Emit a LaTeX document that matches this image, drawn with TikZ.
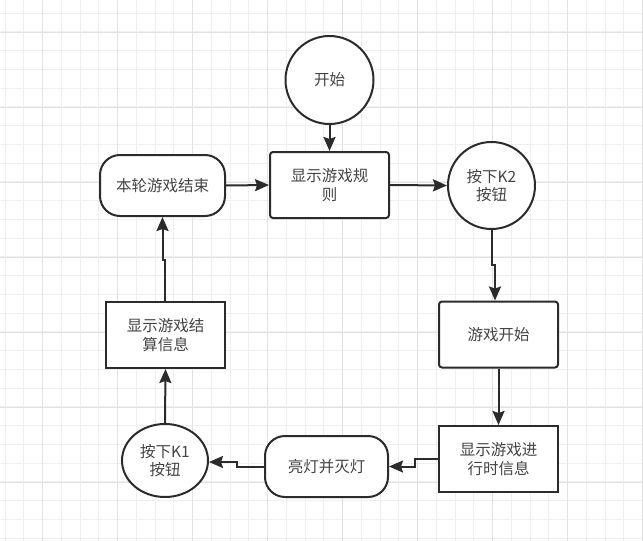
\documentclass[tikz,border=0pt]{standalone}
\usepackage{fontspec}
\setmainfont{Noto Sans CJK SC}
\usetikzlibrary{arrows.meta,shapes.geometric}
\definecolor{minorgrid}{HTML}{EFEFEF}
\definecolor{majorgrid}{HTML}{E2E2E2}
\definecolor{ink}{HTML}{2B2B2B}
\definecolor{txt}{HTML}{444444}
\tikzset{
  minor/.style={draw=minorgrid,line width=1pt},
  major/.style={draw=majorgrid,line width=1pt},
  base/.style={draw=ink,line width=2pt,fill=white,text=txt,align=center,
    font=\fontsize{15.5}{18.5}\selectfont,inner sep=0pt},
  rbox/.style={base,rectangle,rounded corners=3pt,minimum width=119pt,minimum height=66pt},
  sbox/.style={base,rectangle,minimum width=119pt,minimum height=66pt},
  pill/.style={base,rectangle,rounded corners=20pt,minimum height=61pt},
  roundnode/.style={base,circle},
  ovalnode/.style={base,ellipse},
  conn/.style={draw=ink,line width=2pt,-{Stealth[length=14pt,width=12pt,inset=2pt]}}
}
\begin{document}
\begin{tikzpicture}[x=1pt,y=-1pt]
\useasboundingbox (0,0) rectangle (643,541);
\fill[white] (0,0) rectangle (643,541);
% grid
\foreach \k in {0,...,34} {\draw[minor] (5+18.75*\k,0) -- (5+18.75*\k,541);}
\foreach \k in {0,...,28} {\draw[minor] (0,13+18.75*\k) -- (643,13+18.75*\k);}
\foreach \k in {0,...,8} {\draw[major] (42.5+75*\k,0) -- (42.5+75*\k,541);}
\foreach \k in {0,...,6} {\draw[major] (0,32+75*\k) -- (643,32+75*\k);}
% nodes
\node[roundnode,minimum size=88pt] (start) at (329.5,80) {开始};
\node[rbox] (rules) at (329.5,185) {显示游戏规\\则};
\node[pill,minimum width=125pt] (endround) at (162.5,185.5) {本轮游戏结束};
\node[roundnode,minimum size=87pt] (k2) at (491.5,185.5) {按下K2\\按钮};
\node[rbox] (gstart) at (498.5,334.5) {游戏开始};
\node[sbox] (info) at (498.5,459) {显示游戏进\\行时信息};
\node[pill,minimum width=123pt] (light) at (326.5,466.5) {亮灯并灭灯};
\node[ovalnode,minimum width=86pt,minimum height=73pt] (k1) at (165,460.5) {按下K1\\按钮};
\node[sbox] (settle) at (165.5,335) {显示游戏结\\算信息};
% connectors
\draw[conn] (start.south) -- (rules.north);
\draw[conn] (endround.east) -- (rules.west);
\draw[conn] (rules.east) -- (k2.west);
\draw[conn] (k2.south) -- ++(0,35) -| ([xshift=-3.5pt]gstart.north);
\draw[conn] (gstart.south) -- (info.north);
\draw[conn] (info.west) -- ++(-23,0) |- (light.east);
\draw[conn] (light.west) -- ++(-27,0) |- ([yshift=-1.5pt]k1.east);
\draw[conn] (k1.north) -- (settle.south);
\draw[conn] ([xshift=-0.5pt]settle.north) -- ++(0,-41) -| (endround.south);
\end{tikzpicture}
\end{document}
